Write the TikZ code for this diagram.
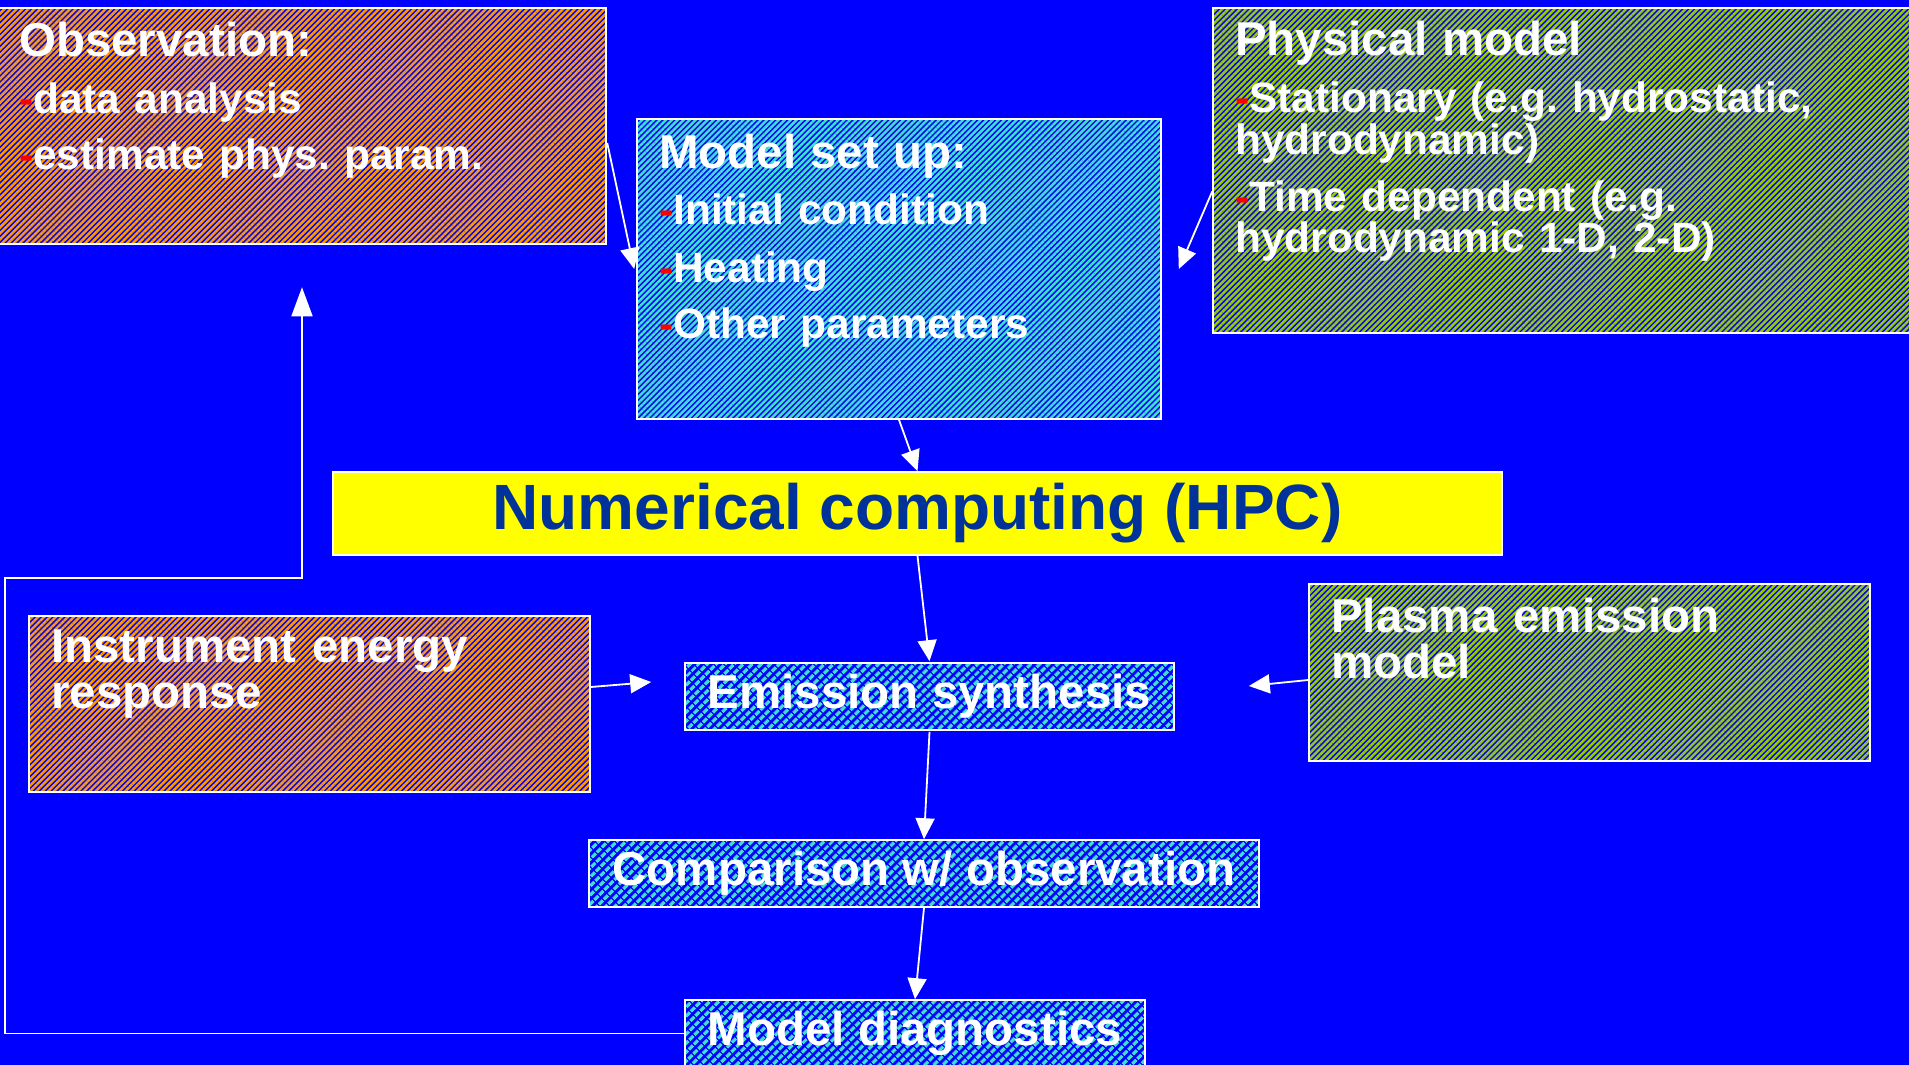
\documentclass[tikz,border=0pt]{standalone}
\usepackage{fontspec}
\setmainfont{Liberation Sans}
\usetikzlibrary{arrows.meta,patterns.meta}
\definecolor{slideblue}{HTML}{0000FF}
\definecolor{strorange}{HTML}{FF9900}
\definecolor{strteal}{HTML}{40E0D0}
\definecolor{strolive}{HTML}{99CC00}
\definecolor{hpcyellow}{HTML}{FFFF00}
\definecolor{hpcnavy}{HTML}{003399}
\newcommand{\ttlfont}{\fontsize{47.5}{46}\selectfont\bfseries}
\newcommand{\itmfont}{\fontsize{42.4}{56}\selectfont\bfseries}
\newcommand{\rdash}{\textcolor{red}{-}}
\frenchspacing

\begin{document}
\begin{tikzpicture}[
  x=1pt, y=-1pt,
  box/.style={draw=white, line width=1.6pt, inner sep=0pt, preaction={fill=slideblue}},
  xobs/.style={box, pattern={Lines[angle=45,distance=4.2pt,line width=2.5pt]}, pattern color=strorange},
  xset/.style={box, pattern={Lines[angle=45,distance=4.2pt,line width=2.5pt]}, pattern color=strteal},
  xphy/.style={box, pattern={Lines[angle=45,distance=4.2pt,line width=2.5pt]}, pattern color=strolive},
  xsml/.style={box, pattern={Lines[angle=45,distance=6.5pt,line width=3.6pt]}, pattern color=strteal,
               text=white, font=\ttlfont},
  xhpc/.style={box, fill=hpcyellow, text=hpcnavy, font=\fontsize{64}{64}\selectfont\bfseries},
  txt/.style={text=white, font=\itmfont, align=left, text width=640pt, inner sep=0pt, anchor=base west},
  arr/.style={-{Triangle[length=21pt,width=19pt]}, draw=white, line width=1.8pt},
  arrbig/.style={-{Triangle[length=29pt,width=21pt]}, draw=white, line width=1.8pt}]

% slide background
\useasboundingbox (0,0) rectangle (1909,1065);
\fill[slideblue] (0,0) rectangle (1909,1065);

% top row
\node[xobs, minimum width=608pt, minimum height=236pt] (obs) at (302,126) {};
\node[xset, minimum width=524pt, minimum height=300pt] (setup) at (899,269) {};
\node[xphy, minimum width=710pt, minimum height=325pt] (phys) at (1568,170.5) {};

\node[txt] (obsT) at (19,57)
  {{\ttlfont Observation:}\\\rdash data analysis\\\rdash estimate phys. param.};
\node[txt, font=\fontsize{42.4}{56}\selectfont\bfseries] (setupT) at (659,168)
  {{\ttlfont Model set up:}\\\rdash Initial condition\\[2pt]\rdash Heating\\\rdash Other parameters};
\node[txt, font=\fontsize{42.4}{57}\selectfont\bfseries] (physT) at (1235,56)
  {{\ttlfont Physical model}\\\rdash Stationary (e.g. hydrostatic,\\[-15pt]hydrodynamic)\\[0pt]%
   \rdash Time dependent (e.g.\\[-16pt]hydrodynamic 1-D, 2-D)};

% computing
\node[xhpc, minimum width=1169pt, minimum height=83pt] (hpc) at (917.5,513.5) {Numerical computing (HPC)};

% synthesis row
\node[xobs, minimum width=561pt, minimum height=176pt] (instr) at (309.5,704) {};
\node[xphy, minimum width=561pt, minimum height=177pt] (plasma) at (1589.5,672.5) {};
\node[xsml, minimum width=489pt, minimum height=67pt] (emis) at (929.5,696.5) {Emission synthesis};
\node[txt, font=\ttlfont] (instrT) at (51,662) {Instrument energy\\response};
\node[txt, font=\ttlfont] (plasmaT) at (1331,632) {Plasma emission\\model};

% comparison and diagnostics
\node[xsml, minimum width=670pt, minimum height=67pt] (comp) at (924,873.5) {Comparison w/ observation};
\node[xsml, minimum width=460pt, minimum height=67pt] (diag) at (915,1033.5) {Model diagnostics};

% arrows main path
\draw[arr] ([yshift=-17pt]obs.east) -- ([xshift=-2pt]setup.west);
\draw[arr] ([yshift=-21pt]phys.west) -- ([xshift=17pt]setup.east);
\draw[arr] (setup.south) -- (hpc.north);
\draw[arr] (hpc.south) -- (emis.north);
\draw[arr] ([yshift=17pt]instr.east) -- ([xshift=-32pt,yshift=14.5pt]emis.west);
\draw[arr] ([yshift=-7.5pt]plasma.west) -- ([xshift=73pt,yshift=10.5pt]emis.east);
\draw[arr] (emis.south) -- (comp.north);
\draw[arr] (comp.south) -- (diag.north);

% feedback loop
\coordinate (fbL) at (5,578);
\draw[arrbig] (diag.west) -| (fbL) -| ([yshift=-42pt]obs.south);
\end{tikzpicture}
\end{document}
